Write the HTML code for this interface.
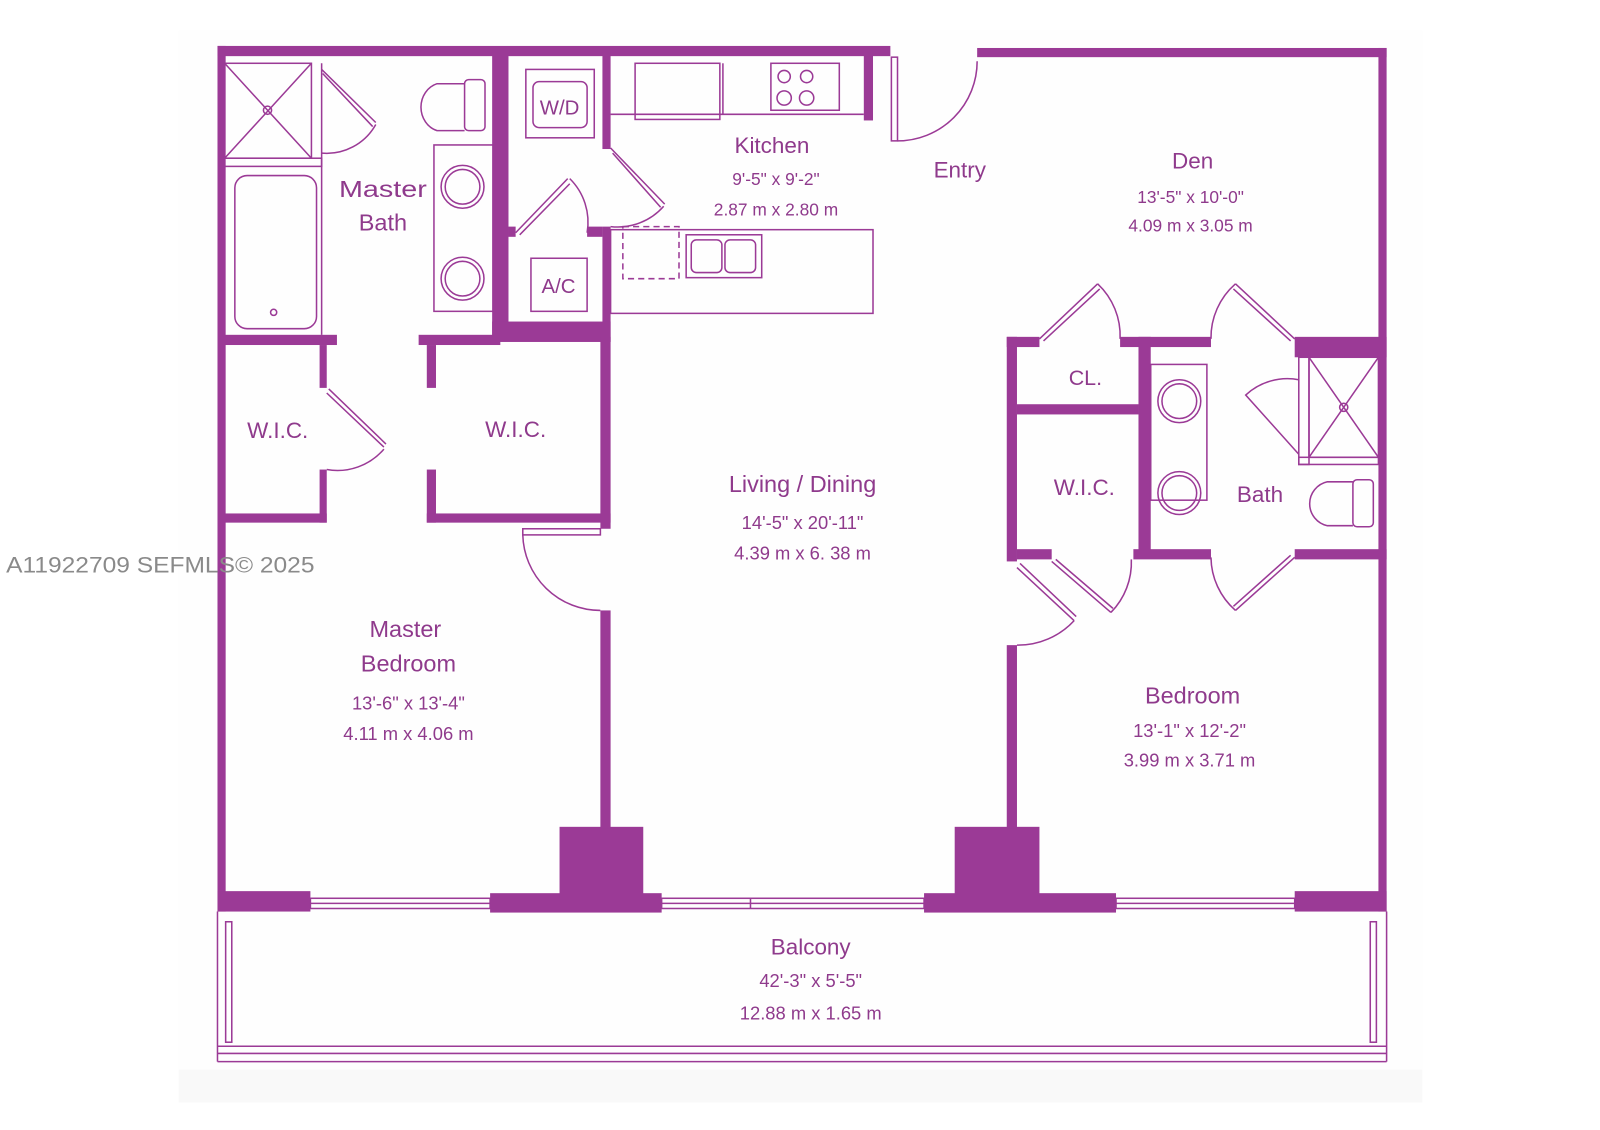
<!DOCTYPE html>
<html><head><meta charset="utf-8">
<style>
html,body{margin:0;padding:0;background:#fff;}
svg{display:block;}
text{font-family:"Liberation Sans",sans-serif;fill:#8f3a8c;text-anchor:middle;}
</style></head><body>
<svg width="1600" height="1130" viewBox="0 0 1567 1107" preserveAspectRatio="none" xmlns="http://www.w3.org/2000/svg">
<rect x="0" y="0" width="1567" height="1107" fill="#fff"/>
<rect x="175" y="30" width="1218" height="1050" fill="#fefefe"/>
<rect x="175" y="1048" width="1218" height="32" fill="#f9f9f9"/>
<g fill="#9b3a96">
<rect x="213" y="45" width="659" height="10"/>
<rect x="957" y="47" width="401" height="9"/>
<rect x="213" y="45" width="8" height="848"/>
<rect x="1350" y="47" width="8" height="846"/>
<rect x="213" y="873" width="91" height="20"/>
<rect x="480" y="875" width="168" height="19"/>
<rect x="548" y="810" width="82" height="70"/>
<rect x="905" y="875" width="188" height="19"/>
<rect x="935" y="810" width="83" height="70"/>
<rect x="1268" y="873" width="90" height="20"/>
<rect x="482" y="54" width="16" height="280"/>
<rect x="590" y="54" width="8" height="92"/>
<rect x="590" y="222" width="8" height="113"/>
<rect x="498" y="222" width="7" height="10"/>
<rect x="575" y="222" width="15" height="10"/>
<rect x="482" y="315" width="116" height="20"/>
<rect x="220" y="328" width="110" height="10"/>
<rect x="410" y="328" width="80" height="10"/>
<rect x="846" y="54" width="9" height="64"/>
<rect x="313" y="338" width="7" height="42"/>
<rect x="313" y="460" width="7" height="52"/>
<rect x="220" y="503" width="100" height="9"/>
<rect x="418" y="338" width="9" height="42"/>
<rect x="418" y="460" width="9" height="52"/>
<rect x="418" y="503" width="180" height="9"/>
<rect x="588" y="330" width="10" height="188"/>
<rect x="588" y="598" width="10" height="214"/>
<rect x="986" y="330" width="10" height="220"/>
<rect x="986" y="632" width="10" height="180"/>
<rect x="986" y="330" width="32" height="10"/>
<rect x="1097" y="330" width="89" height="10"/>
<rect x="1268" y="330" width="90" height="20"/>
<rect x="1115" y="330" width="12" height="216"/>
<rect x="996" y="396" width="119" height="10"/>
<rect x="996" y="538" width="34" height="10"/>
<rect x="1110" y="538" width="76" height="10"/>
<rect x="1268" y="538" width="90" height="10"/>
</g>
<g fill="none" stroke="#9b3a96" stroke-width="1.5">
<rect x="304" y="880" width="176" height="10"/>
<line x1="304" y1="885" x2="480" y2="885"/>
<rect x="648" y="880" width="257" height="10"/>
<line x1="648" y1="885" x2="905" y2="885"/>
<line x1="735" y1="880" x2="735" y2="890"/>
<rect x="1093" y="880" width="175" height="10"/>
<line x1="1093" y1="885" x2="1268" y2="885"/>
<line x1="213" y1="893" x2="213" y2="1040"/>
<line x1="1358" y1="893" x2="1358" y2="1040"/>
<line x1="213" y1="1025" x2="1358" y2="1025"/>
<line x1="213" y1="1032" x2="1358" y2="1032"/>
<line x1="213" y1="1040" x2="1358" y2="1040"/>
<rect x="221" y="903" width="6" height="118"/>
<rect x="1342" y="903" width="6" height="118"/>
<rect x="220" y="62" width="85" height="93"/>
<line x1="220" y1="62" x2="305" y2="155"/><line x1="305" y1="62" x2="220" y2="155"/>
<circle cx="262" cy="108" r="4"/>
<rect x="220" y="155" width="95" height="8"/>
<line x1="315" y1="62" x2="315" y2="328"/>
<path d="M315 68 L368 120 M316 72 L365 124"/>
<path d="M368 122 A55 55 0 0 1 315 150"/>
<rect x="230" y="172" width="80" height="150" rx="12"/>
<circle cx="268" cy="306" r="3"/>
<path d="M455 82 L428 82 A22 24 0 0 0 428 128 L455 128"/>
<rect x="455" y="78" width="20" height="50" rx="4"/>
<rect x="425" y="142" width="58" height="163"/>
<circle cx="453" cy="183" r="21"/><circle cx="453" cy="183" r="17"/>
<circle cx="453" cy="273" r="21"/><circle cx="453" cy="273" r="17"/>
<rect x="515" y="68" width="67" height="67"/>
<rect x="522" y="80" width="53" height="45" rx="6"/>
<path d="M598 145 L651 200 M600 150 L647 203"/>
<path d="M650 202 A60 60 0 0 1 598 222"/>
<path d="M505 228 L556 175 M509 230 L558 180"/>
<path d="M558 175 A60 60 0 0 1 575 228"/>
<rect x="520" y="253" width="55" height="52"/>
<line x1="598" y1="112" x2="846" y2="112"/>
<rect x="622" y="62" width="83" height="55"/>
<line x1="708" y1="62" x2="708" y2="112"/>
<rect x="755" y="62" width="67" height="46"/>
<circle cx="768" cy="75" r="6"/><circle cx="790" cy="75" r="6"/>
<circle cx="768" cy="96" r="7"/><circle cx="790" cy="96" r="7"/>
<rect x="598" y="225" width="257" height="82"/>
<rect x="610" y="222" width="55" height="51" stroke-dasharray="6 4"/>
<rect x="672" y="230" width="74" height="42"/>
<rect x="677" y="235" width="30" height="32" rx="5"/><rect x="710" y="235" width="30" height="32" rx="5"/>
<rect x="873" y="56" width="6" height="82"/>
<path d="M879 138 A78 78 0 0 0 957 60"/>
<rect x="512" y="518" width="76" height="6"/>
<path d="M512 524 A76 76 0 0 0 588 598"/>
<path d="M320 385 L376 438 M322 381 L378 435"/>
<path d="M376 440 A60 60 0 0 1 320 460"/>
<path d="M1018 332 L1075 278 M1022 334 L1077 283"/>
<path d="M1075 278 A70 70 0 0 1 1097 332"/>
<path d="M1268 332 L1210 278 M1264 334 L1208 283"/>
<path d="M1210 278 A70 70 0 0 0 1186 332"/>
<path d="M1268 546 L1210 598 M1264 544 L1208 594"/>
<path d="M1210 598 A70 70 0 0 1 1186 546"/>
<path d="M1030 550 L1088 600 M1034 548 L1090 596"/>
<path d="M1088 600 A70 70 0 0 0 1108 548"/>
<path d="M996 556 L1052 608 M999 552 L1054 604"/>
<path d="M1052 608 A75 75 0 0 1 996 632"/>
<rect x="1127" y="357" width="55" height="133"/>
<circle cx="1155" cy="393" r="21"/><circle cx="1155" cy="393" r="17"/>
<circle cx="1155" cy="483" r="21"/><circle cx="1155" cy="483" r="17"/>
<rect x="1282" y="350" width="68" height="98"/>
<line x1="1282" y1="350" x2="1350" y2="448"/><line x1="1350" y1="350" x2="1282" y2="448"/>
<circle cx="1316" cy="399" r="4"/>
<rect x="1272" y="350" width="10" height="105"/>
<rect x="1272" y="448" width="78" height="7"/>
<path d="M1272 372 A60 60 0 0 0 1220 387 L1272 445"/>
<path d="M1325 472 L1300 472 A22 22 0 0 0 1300 515 L1325 515"/>
<rect x="1325" y="470" width="20" height="46" rx="4"/>
</g>
<g>
<text x="375" y="193" font-size="23" textLength="86" lengthAdjust="spacingAndGlyphs">Master</text>
<text x="375" y="226" font-size="23">Bath</text>
<text x="548" y="112" font-size="20">W/D</text>
<text x="547" y="287" font-size="20">A/C</text>
<text x="756" y="150" font-size="22">Kitchen</text>
<text x="760" y="181" font-size="17">9'-5" x 9'-2"</text>
<text x="760" y="211" font-size="17">2.87 m x 2.80 m</text>
<text x="940" y="174" font-size="22">Entry</text>
<text x="1168" y="165" font-size="22">Den</text>
<text x="1166" y="199" font-size="17">13'-5" x 10'-0"</text>
<text x="1166" y="227" font-size="17">4.09 m x 3.05 m</text>
<text x="1063" y="377" font-size="21">CL.</text>
<text x="1062" y="485" font-size="22">W.I.C.</text>
<text x="1234" y="492" font-size="22">Bath</text>
<text x="272" y="429" font-size="22">W.I.C.</text>
<text x="505" y="428" font-size="22">W.I.C.</text>
<text x="786" y="482" font-size="23">Living / Dining</text>
<text x="786" y="518" font-size="18">14'-5" x 20'-11"</text>
<text x="786" y="548" font-size="18">4.39 m x 6. 38 m</text>
<text x="397" y="624" font-size="23">Master</text>
<text x="400" y="658" font-size="23">Bedroom</text>
<text x="400" y="695" font-size="18">13'-6" x 13'-4"</text>
<text x="400" y="725" font-size="18">4.11 m x 4.06 m</text>
<text x="1168" y="689" font-size="23">Bedroom</text>
<text x="1165" y="722" font-size="18">13'-1" x 12'-2"</text>
<text x="1165" y="751" font-size="18">3.99 m x 3.71 m</text>
<text x="794" y="935" font-size="22">Balcony</text>
<text x="794" y="967" font-size="18">42'-3" x 5'-5"</text>
<text x="794" y="999" font-size="18">12.88 m x 1.65 m</text>
<text x="6" y="561" font-size="22" textLength="302" lengthAdjust="spacingAndGlyphs" style="text-anchor:start;fill:#8a8a8a">A11922709  SEFMLS© 2025</text>
</g>
</svg>
</body></html>
